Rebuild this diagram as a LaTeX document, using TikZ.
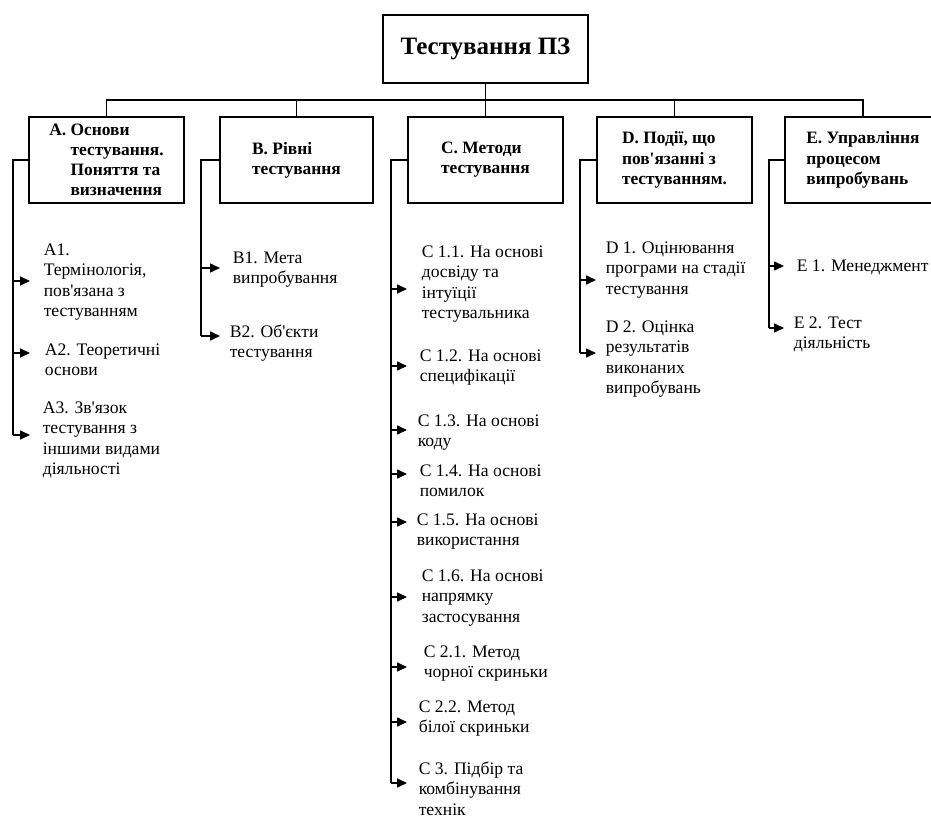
\documentclass[tikz,border=0pt]{standalone}
\usepackage{fontspec}
\setmainfont{Liberation Serif}
\usetikzlibrary{arrows.meta}
\newcommand{\ap}{\textquotesingle}
\begin{document}
\begin{tikzpicture}[x=1pt,y=-1pt, line width=1.6pt,
  box/.style={draw, rectangle, line width=1.6pt, inner sep=0pt, align=left,
    minimum height=86pt, font=\fontsize{17.4}{20.2}\selectfont\bfseries},
  item/.style={anchor=north west, inner sep=0pt, align=left,
    font=\fontsize{17.6}{20.3}\selectfont,
    execute at begin node={\rule{0pt}{13pt}}},
  arr/.style={-{Triangle[length=10pt,width=9pt]}},
  ]
\useasboundingbox (0,0) rectangle (931,818);

% root
\node[draw, line width=1.6pt, minimum width=205pt, minimum height=68pt,
  font=\fontsize{25}{30}\selectfont\bfseries] (root) at (485.5,49) {Тестування ПЗ};

% level-1 boxes
\node[box, minimum width=155pt] (A) at (106.5,160)
  {А.~Основи\\\phantom{А.~}тестування.\\\phantom{А.~}Поняття та\\\phantom{А.~}визначення};
\node[box, minimum width=153pt] (B) at (296.5,160) {В. Рівні\\тестування};
\node[box, minimum width=155pt] (C) at (485.5,160) {С. Методи\\тестування};
\node[box, minimum width=155pt] (D) at (674.5,160) {D. Події, що\\пов\ap язанні з\\тестуванням.};
\node[box, minimum width=156pt] (E) at (863,160) {E. Управління\\процесом\\випробувань};

% bus
\coordinate (bus) at (485.5,100);
\draw (root.south) -- (bus);
\draw (A.north) -- (A.north |- bus) -- (E.north |- bus) -- (E.north);
\draw (B.north) -- (B.north |- bus);
\draw (C.north) -- (C.north |- bus);
\draw (D.north) -- (D.north |- bus);

% spines
\coordinate (sA) at (13,435);
\coordinate (sB) at (201,336);
\coordinate (sC) at (391,783);
\coordinate (sD) at (580,353);
\coordinate (sE) at (769,328);
\draw (A.west) -| (sA);
\draw (B.west) -| (sB);
\draw (C.west) -| (sC);
\draw (D.west) -| (sD);
\draw (E.west) -| (sE);

% arrows
\foreach \n/\y in {a1/281, a2/353, a3/435}
  {\coordinate (t\n) at (30,\y); \draw[arr] (sA |- t\n) -- (t\n);}
\foreach \n/\y in {b1/268, b2/336}
  {\coordinate (t\n) at (220,\y); \draw[arr] (sB |- t\n) -- (t\n);}
\foreach \n/\y in {c11/289, c12/366, c13/430, c14/474, c15/522, c16/597, c21/667, c22/722, c3/783}
  {\coordinate (t\n) at (407,\y); \draw[arr] (sC |- t\n) -- (t\n);}
\foreach \n/\y in {d1/280, d2/353}
  {\coordinate (t\n) at (596,\y); \draw[arr] (sD |- t\n) -- (t\n);}
\foreach \n/\y in {e1/266, e2/328}
  {\coordinate (t\n) at (784,\y); \draw[arr] (sE |- t\n) -- (t\n);}

% items
\node[item] (a1) at (43,243) {А1.\\Термінологія,\\пов\ap язана з\\тестуванням};
\node[item] (a2) at (44,343) {А2. Теоретичні\\основи};
\node[item] (a3) at (42,401) {А3. Зв\ap язок\\тестування з\\іншими видами\\діяльності};
\node[item] (b1) at (232,251) {В1. Мета\\випробування};
\node[item] (b2) at (229,324) {В2. Об\ap єкти\\тестування};
\node[item] (c11) at (421,245) {С 1.1. На основі\\досвіду та\\інтуїції\\тестувальника};
\node[item] (c12) at (419,349) {С 1.2. На основі\\специфікації};
\node[item] (c13) at (417,414) {С 1.3. На основі\\коду};
\node[item] (c14) at (419,464) {С 1.4. На основі\\помилок};
\node[item] (c15) at (416,513) {С 1.5. На основі\\використання};
\node[item] (c16) at (421,569) {С 1.6. На основі\\напрямку\\застосування};
\node[item] (c21) at (423,645) {С 2.1. Метод\\чорної скриньки};
\node[item] (c22) at (418,700) {С 2.2. Метод\\білої скриньки};
\node[item] (c3) at (418,761) {С 3. Підбір та\\комбінування\\технік};
\node[item] (d1) at (605,241) {D 1. Оцінювання\\програми на стадії\\тестування};
\node[item] (d2) at (605,320) {D 2. Оцінка\\результатів\\виконаних\\випробувань};
\node[item] (e1) at (796,258) {E 1. Менеджмент};
\node[item] (e2) at (793,316) {E 2. Тест\\діяльність};
\end{tikzpicture}
\end{document}
